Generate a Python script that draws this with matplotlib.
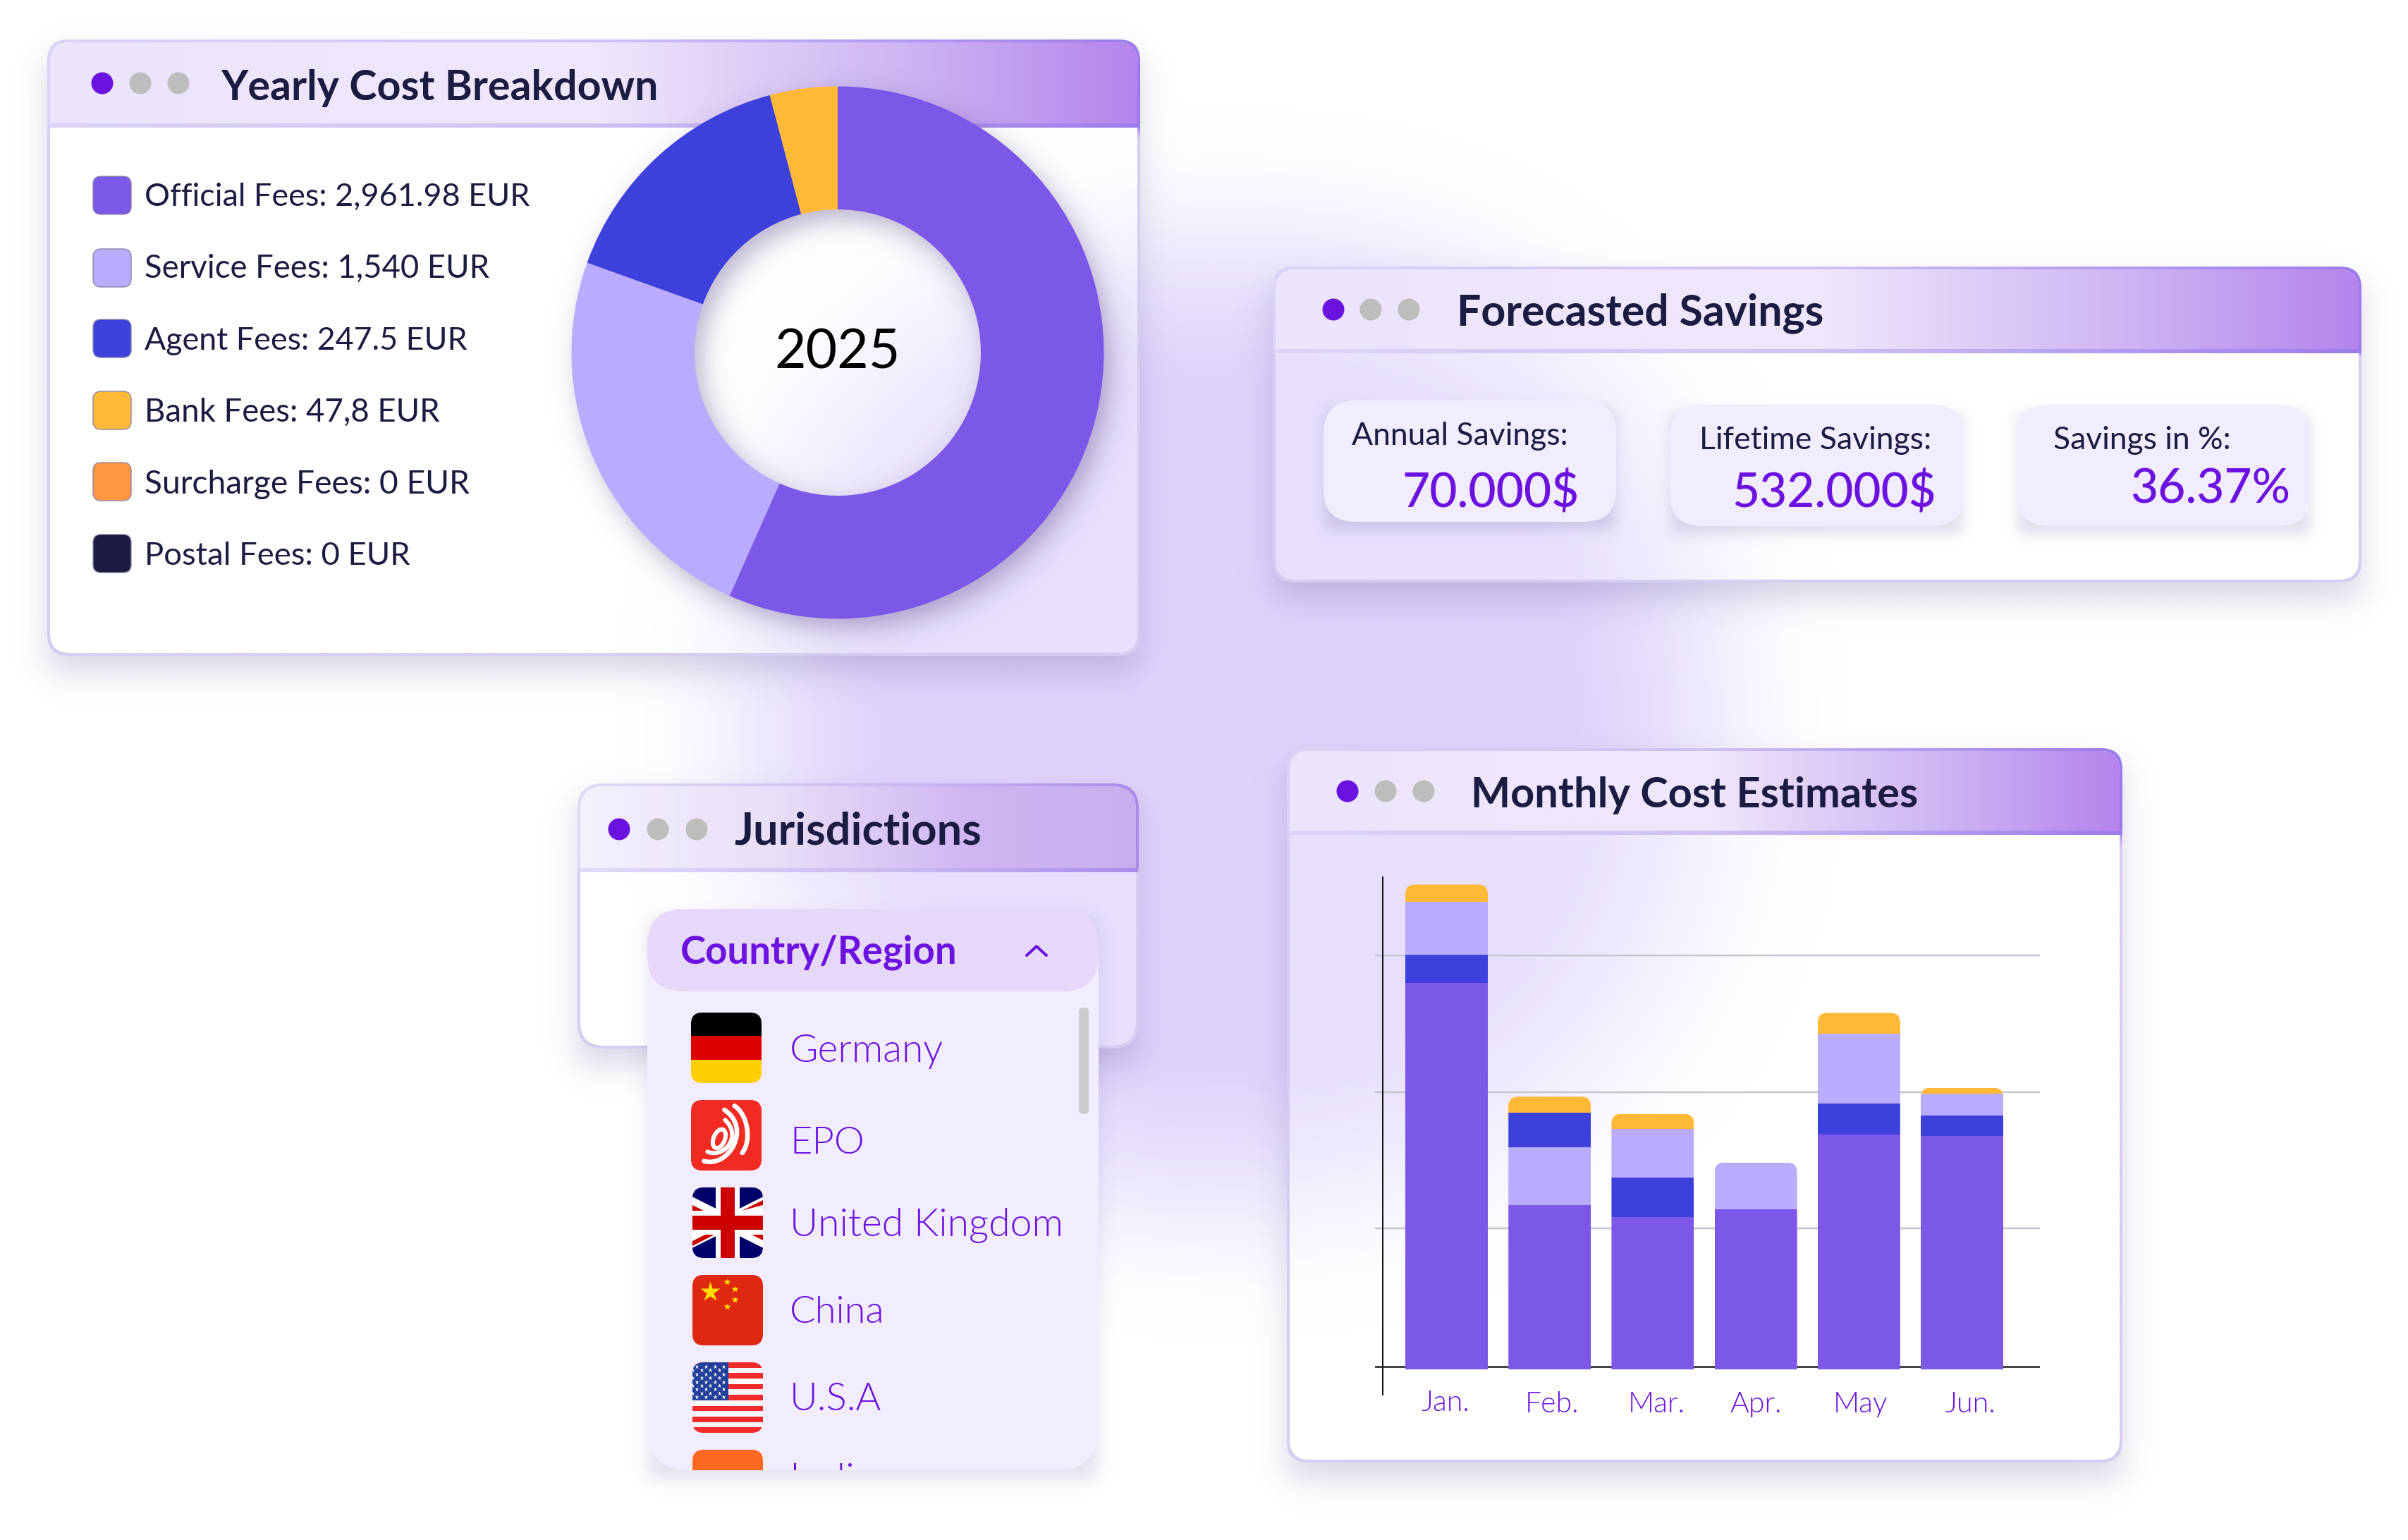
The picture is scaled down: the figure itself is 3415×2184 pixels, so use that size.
import numpy as np
import matplotlib
matplotlib.use("Agg")
import matplotlib.pyplot as plt
from matplotlib.patches import FancyBboxPatch, Rectangle, Polygon, Circle, Ellipse, PathPatch
from matplotlib.path import Path
from matplotlib.transforms import ScaledTranslation, Bbox
from matplotlib.colors import to_rgb

# ---------- data ----------
donut_labels = ["Official Fees: 2,961.98 EUR", "Service Fees: 1,540 EUR", "Agent Fees: 247.5 EUR",
                "Bank Fees: 47,8 EUR", "Surcharge Fees: 0 EUR", "Postal Fees: 0 EUR"]
donut_shares = [56.6, 23.8, 15.4, 4.1, 0.0, 0.0]
donut_center = "2025"

months = ["Jan.", "Feb.", "Mar.", "Apr.", "May", "Jun."]
official = [2826, 1199, 1115, 1171, 1714, 1707]
service = [383, 425, 355, 341, 509, 157]
agent = [206, 254, 289, 0, 230, 150]
bank = [129, 115, 108, 0, 153, 45]
stack_orders = [("official", "agent", "service", "bank"),
                ("official", "service", "agent", "bank"),
                ("official", "agent", "service", "bank"),
                ("official", "service", "agent", "bank"),
                ("official", "agent", "service", "bank"),
                ("official", "agent", "service", "bank")]
grid_values = [21, 1031, 2026, 3026]

savings_labels = ["Annual Savings:", "Lifetime Savings:", "Savings in %:"]
savings_values = ["70.000$", "532.000$", "36.37%"]
countries = ["Germany", "EPO", "United Kingdom", "China", "U.S.A", "India"]

# ---------- style ----------
C_OFF, C_SRV, C_AGT, C_BNK, C_SUR, C_POS = "#7b58e8", "#b9abfd", "#3e40dc", "#ffb937", "#ff9640", "#1c1b41"
swatch_colors = [C_OFF, C_SRV, C_AGT, C_BNK, C_SUR, C_POS]
series_colors = {"official": C_OFF, "service": C_SRV, "agent": C_AGT, "bank": C_BNK}
series_values = {"official": official, "service": service, "agent": agent, "bank": bank}
DARK, PURPLE, GREY = "#1c1b41", "#6a12e0", "#bdbdbd"
SANS = ["Lato", "DejaVu Sans"]
LIGHT = 300

W, H = 3416, 2184
fig = plt.figure(figsize=(W / 100, H / 100), dpi=100, facecolor="white")
bg_ax = fig.add_axes([0, 0, 1, 1], zorder=1)
bg_ax.set_xlim(0, W)
bg_ax.set_ylim(H, 0)
bg_ax.set_autoscale_on(False)
bg_ax.axis("off")
renderer = fig.canvas.get_renderer()


def px(v):
    return v * 0.72


def rrect(x, y, w, h, r, **kw):
    return FancyBboxPatch((x, y), w, h, boxstyle=f"round,pad=0,rounding_size={r}", **kw)


def add_clip(x, y, w, h, r):
    return rrect(x, y, w, h, r, transform=bg_ax.transData)


def gradient(stops, n=256):
    xs = np.linspace(0, 1, n)
    pos = [s[0] for s in stops]
    rgb = np.array([to_rgb(s[1]) for s in stops])
    return np.stack([np.interp(xs, pos, rgb[:, i]) for i in range(3)], axis=1)


def softbox(xx, yy, x0, y0, x1, y1, s):
    return (0.25 * (np.tanh((xx - x0) / s) - np.tanh((xx - x1) / s))
            * (np.tanh((yy - y0) / s) - np.tanh((yy - y1) / s)))


def shadow(x, y, w, h, dy=24, s=30, alpha=0.2, color="#3a2a80", zorder=1):
    pad = 4 * s + abs(dy)
    xs = np.arange(x - pad, x + w + pad, 4.0)
    ys = np.arange(y - pad, y + h + pad, 4.0)
    xx, yy = np.meshgrid(xs, ys)
    a = softbox(xx, yy, x, y + dy, x + w, y + h + dy, s) * alpha
    img = np.zeros(a.shape + (4,))
    img[..., :3] = to_rgb(color)
    img[..., 3] = a
    bg_ax.imshow(img, extent=(xs[0], xs[-1], ys[-1], ys[0]), aspect="auto",
                 interpolation="bilinear", zorder=zorder)


def blob(xx, yy):
    n = (np.abs((xx - 1745) / 830) ** 2.2 + np.abs((yy - 1025) / 830) ** 2.2) ** (1 / 2.2)
    t = np.clip((1.05 - n) / 0.5, 0, 1)
    return t * t * (3 - 2 * t)


BLOB_RGB = np.array(to_rgb("#dfd3fb"))


def bg_rgb(xx, yy):
    t = blob(xx, yy)[..., None]
    return (1 - t) * 1.0 + t * BLOB_RGB


xs, ys = np.meshgrid(np.arange(0, W, 4.0), np.arange(0, H, 4.0))
bg_ax.imshow(bg_rgb(xs, ys), extent=(0, W, H, 0), aspect="auto", interpolation="bilinear", zorder=0)

HDR_STD = [(0, "#ebe4fc"), (.5, "#efe8fc"), (.62, "#e1d2f8"), (.8, "#ccb2f3"), (1, "#b484ec")]
HDR_J = [(0, "#f5f1fe"), (.35, "#e8dff8"), (.7, "#cfb6f2"), (1, "#c8aeee")]
LINE_STD = [(0, "#dcd3f6"), (.5, "#cfc2f3"), (1, "#9b7bec")]
LINE_J = [(0, "#e2daf7"), (.6, "#c9b8f0"), (1, "#a98cea")]


def panel(x0, y0, x1, y1, hb, r=30, hdr=HDR_STD, line=LINE_STD, z=2, dy=24):
    w, h = x1 - x0, y1 - y0
    shadow(x0, y0, w, h, dy=dy, s=28, alpha=0.2, zorder=z)
    bw = 4
    g = gradient(line)[None, :, :]
    nrow = 40
    img = np.repeat(g, nrow, axis=0)
    body_col = np.array(to_rgb("#d6cdf0"))
    yrow = np.linspace(y0, y1, nrow)
    img[yrow > hb] = body_col
    im = bg_ax.imshow(img, extent=(x0, x1, y1, y0), aspect="auto", interpolation="bilinear", zorder=z + .1)
    im.set_clip_path(add_clip(x0, y0, w, h, r))
    # translucent body sees the backdrop through it
    xs_, ys_ = np.meshgrid(np.arange(x0, x1 + 4, 4.0), np.arange(y0, y1 + 4, 4.0))
    body = bg_rgb(xs_, ys_) * 0.72 + 0.28
    clip = add_clip(x0 + bw, y0 + bw, w - 2 * bw, h - 2 * bw, r - 2)
    im = bg_ax.imshow(body, extent=(xs_.min(), xs_.max(), ys_.max(), ys_.min()), aspect="auto",
                      interpolation="bilinear", zorder=z + .2)
    im.set_clip_path(clip)
    im = bg_ax.imshow(gradient(hdr)[None, :, :], extent=(x0, x1, hb, y0), aspect="auto",
                      interpolation="bilinear", zorder=z + .3)
    im.set_clip_path(add_clip(x0 + bw, y0 + bw, w - 2 * bw, h - 2 * bw, r - 2))
    bg_ax.imshow(gradient(line)[None, :, :], extent=(x0 + bw, x1 - bw + 3, hb + 3, hb - 3), aspect="auto",
                 interpolation="bilinear", zorder=z + .4)


def dots(xs_, y, z):
    for i, dx in enumerate(xs_):
        bg_ax.add_patch(Circle((dx, y), 15.5, fc=PURPLE if i == 0 else GREY, ec="none", zorder=z))


def fit_text(s, x, y, width, size=50, color=DARK, weight="normal", z=6, **kw):
    t = bg_ax.text(x - 1, y, s, fontsize=px(size), color=color, family=SANS, fontweight=weight,
                   ha="left", va="baseline", zorder=z, **kw)
    ext = t.get_window_extent(renderer).width
    t.set_fontsize(t.get_fontsize() * width / ext)
    return t


# ---------- Yearly Cost Breakdown ----------
panel(67, 56, 1617, 930, 178)
dots([145, 199, 253], 118, 5)
fit_text("Yearly Cost Breakdown", 314, 142, 620, weight="bold")
leg_base = [292, 394, 496, 598, 700, 801]
leg_cent = [277, 380, 480, 582, 683, 785]
leg_w = [547, 490, 457, 419, 461, 377]
for lab, c, b, cy, tw in zip(donut_labels, swatch_colors, leg_base, leg_cent, leg_w):
    bg_ax.add_patch(rrect(132, cy - 27, 54, 54, 11, fc=c, ec="#8d86a8", lw=1, zorder=5))
    fit_text(lab, 206, b, tw)

# donut shadow
dcx, dcy, dR, dr = 1188, 500, 377.5, 203
xs_, ys_ = np.meshgrid(np.arange(dcx - 520, dcx + 520, 4.0), np.arange(dcy - 520, dcy + 540, 4.0))
d = np.hypot(xs_ - dcx - 10, ys_ - dcy - 14)
a = 0.5 * (np.tanh((d - dr) / 22) - np.tanh((d - dR) / 22)) * 0.34
img = np.zeros(a.shape + (4,))
img[..., :3] = to_rgb("#33206a")
img[..., 3] = a
bg_ax.imshow(img, extent=(xs_[0, 0], xs_[0, -1], ys_[-1, 0], ys_[0, 0]), aspect="auto",
             interpolation="bilinear", zorder=5)

d_ax = fig.add_axes([(dcx - dR) / W, 1 - (dcy + dR) / H, 2 * dR / W, 2 * dR / H], zorder=3)
d_ax.pie(donut_shares, colors=swatch_colors, startangle=90, counterclock=False, radius=1,
         wedgeprops=dict(width=1 - dr / dR, linewidth=0))
d_ax.set_xlim(-1, 1)
d_ax.set_ylim(-1, 1)
d_ax.patch.set_visible(False)
d_ax.text(0, -0.002, donut_center, ha="center", va="center", color="black", family=SANS, fontsize=px(77))

# ---------- Forecasted Savings ----------
panel(1805, 378, 3349, 826, 498)
dots([1891, 1944, 1998], 439, 5)
fit_text("Forecasted Savings", 2067, 461, 520, weight="bold")
cards = [(1877, 568, 415, 172), (2368, 574, 417, 172), (2860, 574, 417, 172)]
lab_pos = [(1918, 631, 307), (2411, 637, 329), (2913, 637, 252)]
val_pos = [(1990, 719, 252), (2457, 719, 290), (3022, 713, 227)]
for (cx, cy, cw, ch), lab, val, lp, vp in zip(cards, savings_labels, savings_values, lab_pos, val_pos):
    shadow(cx, cy, cw, ch, dy=12, s=12, alpha=0.16, zorder=4)
    bg_ax.add_patch(rrect(cx, cy, cw, ch, 46, fc="#f2edfe", ec="none", zorder=5))
    fit_text(lab, lp[0], lp[1], lp[2])
    fit_text(val, vp[0], vp[1], vp[2], color=PURPLE, weight="medium")

# ---------- Jurisdictions ----------
panel(819, 1111, 1615, 1487, 1234, r=36, hdr=HDR_J, line=LINE_J)
dots([878, 933, 988], 1176, 5)
fit_text("Jurisdictions", 1042, 1198, 350, weight="bold")
dx0, dy0, dw, dh = 918, 1289, 640, 796
shadow(dx0, dy0, dw, dh, dy=14, s=16, alpha=0.15, zorder=6)
bg_ax.add_patch(rrect(dx0, dy0, dw, dh, 60, fc="#f2edfe", ec="none", zorder=7))
bg_ax.add_patch(rrect(dx0, dy0, dw, 117, 52, fc="#e6d8f9", ec="none", zorder=7.1))
fit_text("Country/Region", 966, 1367, 392, color=PURPLE, weight="bold", z=8)
bg_ax.plot([1456, 1470, 1484], [1355, 1342, 1355], color=PURPLE, lw=px(4), solid_joinstyle="round",
           solid_capstyle="round", zorder=8)
bg_ax.add_patch(rrect(1530, 1429, 14, 151, 6, fc="#cccccc", ec="none", zorder=8))
drop_clip = add_clip(dx0, dy0, dw, dh, 60)

ctext = [(1121, 1506, 218), (1121, 1636, 106), (1121, 1753, 388), (1121, 1876, 135), (1121, 2000, 130)]
for name, (tx, ty, tw) in zip(countries, ctext):
    fit_text(name, tx, ty, tw, color=PURPLE, z=8, weight=LIGHT)
t = bg_ax.text(1120, 2116, countries[5], color=PURPLE, family=SANS, fontweight=LIGHT, fontsize=px(58),
               ha="left", va="baseline", zorder=8)
# the list cuts the last row off at its lower edge
t.set_clip_on(True)
t.set_clip_path(None)
t.set_clip_box(Bbox([[0, H - (dy0 + dh)], [W, H]]))


# Germany
fx, fy = 980, 1436
for i, c in enumerate(["#000000", "#dd0000", "#ffce00"]):
    rc = Rectangle((fx, fy + i * 100 / 3), 100, 100 / 3 + .5, fc=c, ec="none", zorder=8)
    bg_ax.add_patch(rc)
    rc.set_clip_path(add_clip(fx, fy, 100, 100, 16))

# EPO
bg_ax.add_patch(rrect(980, 1560, 100, 100, 16, fc="#f12b22", ec="none", zorder=8))
def ez(zx, zy):
    return (970 + zx / 3, 1550 + zy / 3)
for seg, lw_ in [([(100, 250), (170, 280), (250, 185), (175, 115)], 6),
                 ([(85, 290), (190, 320), (290, 150), (172, 72)], 6.5),
                 ([(215, 55), (270, 90), (290, 200), (248, 255)], 6.5)]:
    path = Path([ez(*p) for p in seg], [Path.MOVETO, Path.CURVE4, Path.CURVE4, Path.CURVE4])
    bg_ax.add_patch(PathPatch(path, fc="none", ec="white", lw=px(lw_), capstyle="round", zorder=8.1))
bg_ax.add_patch(Ellipse(ez(150, 195), 16, 28, angle=22, fc="none", ec="white", lw=px(6), zorder=8.1))

# UK
ux, uy = 982, 1684
uk_clip = add_clip(ux, uy, 100, 100, 16)
items = [Rectangle((ux, uy), 100, 100, fc="#00006a", ec="none")]
for p0, p1 in [((ux - 5, uy + 22), (ux + 105, uy + 77)), ((ux - 5, uy + 77), (ux + 105, uy + 22))]:
    ln, = bg_ax.plot([p0[0], p1[0]], [p0[1], p1[1]], color="white", lw=px(20), zorder=8.05, solid_capstyle="butt")
    ln.set_clip_path(uk_clip)
items2 = [
    Polygon([(ux, uy + 25), (ux + 16, uy + 33), (ux, uy + 33)], fc="#cc0000", ec="none"),
    Polygon([(ux + 100, uy + 18), (ux + 100, uy + 25), (ux + 70, uy + 33), (ux + 70, uy + 33)], fc="#cc0000", ec="none"),
    Polygon([(ux, uy + 76), (ux, uy + 83), (ux + 31, uy + 67), (ux + 18, uy + 67)], fc="#cc0000", ec="none"),
    Polygon([(ux + 84, uy + 67), (ux + 100, uy + 67), (ux + 100, uy + 75)], fc="#cc0000", ec="none"),
    Rectangle((ux + 33, uy), 34, 100, fc="white", ec="none"),
    Rectangle((ux, uy + 33), 100, 34, fc="white", ec="none"),
    Rectangle((ux + 40, uy), 20, 100, fc="#cc0000", ec="none"),
    Rectangle((ux, uy + 40), 100, 20, fc="#cc0000", ec="none"),
]
for it in items:
    it.set_zorder(8)
    bg_ax.add_patch(it)
    it.set_clip_path(uk_clip)
for it in items2:
    it.set_zorder(8.1)
    bg_ax.add_patch(it)
    it.set_clip_path(uk_clip)

# China
bg_ax.add_patch(rrect(982, 1808, 100, 100, 16, fc="#de2910", ec="none", zorder=8))
bg_ax.plot([1007], [1832], marker="*", ms=px(30), mfc="#ffde00", mec="none", zorder=8.1)
bg_ax.plot([1031, 1042, 1042, 1031], [1818, 1828, 1843, 1853], ls="none", marker="*", ms=px(11),
           mfc="#ffde00", mec="none", zorder=8.1)

# USA
sx, sy = 982, 1932
us_clip = add_clip(sx, sy, 100, 100, 16)
for i in range(13):
    rc = Rectangle((sx, sy + i * 100 / 13), 100, 100 / 13, fc="#f12b2b" if i % 2 == 0 else "#fdf8f8", ec="none", zorder=8)
    bg_ax.add_patch(rc)
    rc.set_clip_path(us_clip)
rc = Rectangle((sx, sy), 51, 54, fc="#22409a", ec="none", zorder=8.1)
bg_ax.add_patch(rc)
rc.set_clip_path(us_clip)
for i in range(9):
    cols = [19, 57, 95, 133] if i % 2 == 0 else [0, 38, 76, 114]
    star_x = [sx + c / 3 for c in cols]
    ln, = bg_ax.plot(star_x, [sy + 6 + i * 5.4] * 4, ls="none", marker="*", ms=px(6.5), mfc="white",
                     mec="none", zorder=8.2)
    ln.set_clip_path(us_clip)

# India (cut off by the list)
rc = rrect(982, 2056, 100, 100, 16, fc="#ff6820", ec="none", zorder=8)
bg_ax.add_patch(rc)
rc.set_clip_path(drop_clip)

# ---------- Monthly Cost Estimates ----------
panel(1825, 1061, 3010, 2074, 1181)
dots([1911, 1965, 2019], 1122, 5)
fit_text("Monthly Cost Estimates", 2087, 1145, 633, weight="bold")

PX_PER_MONTH = 146.2
PX_PER_UNIT = 0.194
cx0 = 2051.5
ax_left, ax_right, ax_top, ax_bot = 1950, 2893, 1244, 1978
zero_y = 1942
b_ax = fig.add_axes([ax_left / W, 1 - ax_bot / H, (ax_right - ax_left) / W, (ax_bot - ax_top) / H], zorder=3)
b_ax.patch.set_visible(False)
b_ax.set_xlim((ax_left - cx0) / PX_PER_MONTH, (ax_right - cx0) / PX_PER_MONTH)
b_ax.set_ylim((zero_y - ax_bot) / PX_PER_UNIT, (zero_y - ax_top) / PX_PER_UNIT)
bw_ = 117 / PX_PER_MONTH
for i, order in enumerate(stack_orders):
    bottom = 0
    total = sum(series_values[k][i] for k in order)
    r_x = 14 / PX_PER_MONTH
    r_y = 14 / PX_PER_UNIT
    clip = FancyBboxPatch((i - bw_ / 2, -400), bw_, total + 400,
                          boxstyle=f"round,pad=0,rounding_size={r_x}", mutation_aspect=r_y / r_x,
                          transform=b_ax.transData)
    for k in order:
        v = series_values[k][i]
        if v > 0:
            bar = b_ax.bar(i, v, bottom=bottom, width=bw_, color=series_colors[k], zorder=3, linewidth=0)
            bar[0].set_clip_path(clip)
        bottom += v

for s in ("top", "right", "bottom"):
    b_ax.spines[s].set_visible(False)
b_ax.spines["left"].set_position(("data", (1961 - cx0) / PX_PER_MONTH))
b_ax.spines["left"].set_linewidth(px(2))
b_ax.spines["left"].set_color("#111111")
b_ax.set_yticks(grid_values)
b_ax.set_yticklabels([])
b_ax.tick_params(axis="y", length=0)
b_ax.set_axisbelow(True)
b_ax.grid(axis="y", color="#c6c4cc", lw=px(2.5))
b_ax.yaxis.get_gridlines()[0].set_color("#444444")
b_ax.yaxis.get_gridlines()[0].set_linewidth(px(3))
b_ax.set_xticks(range(len(months)))
b_ax.set_xticklabels(months, color=PURPLE, family=SANS, fontweight=LIGHT, fontsize=px(41))
b_ax.tick_params(axis="x", length=0, pad=-3.5)
for lab, off, dy_ in zip(b_ax.get_xticklabels(), [-2, 3, 5, 0, 2.5, 12], [2, 0, 0, 0, 0, 0]):
    lab.set_transform(lab.get_transform() + ScaledTranslation(off / 100, dy_ / 100, fig.dpi_scale_trans))

fig.savefig("out.png", dpi=100, facecolor="white")
